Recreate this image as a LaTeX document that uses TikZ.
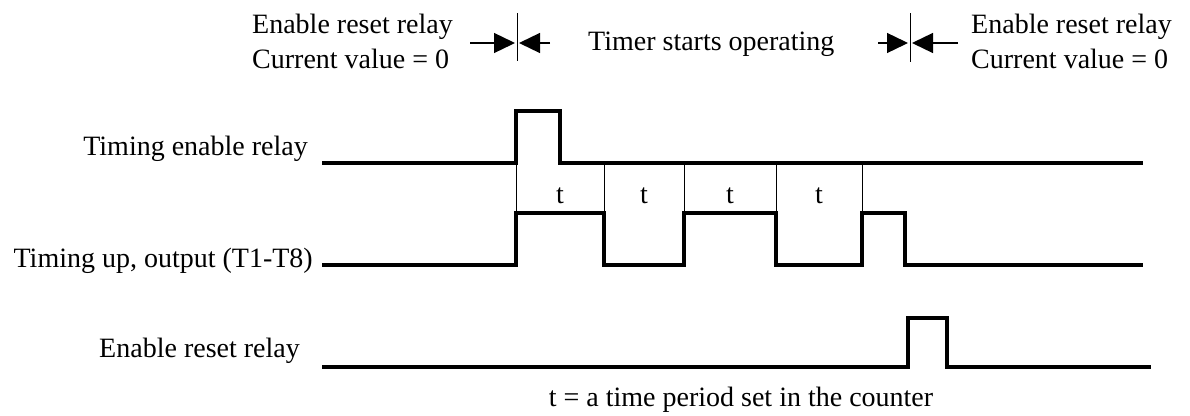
\documentclass[tikz,border=0pt]{standalone}
\usepackage{fontspec}
\setmainfont{Liberation Serif}
\usetikzlibrary{arrows.meta}
\tikzset{
  sig/.style={line width=3.2pt, line join=miter},
  gridline/.style={line width=1pt},
  stopline/.style={line width=1.3pt, -{Triangle[length=21pt,width=20pt]}},
  lbl/.style={inner sep=0pt, font=\fontsize{28}{35}\selectfont}
}
\begin{document}
\begin{tikzpicture}[x=1pt,y=-1pt]
\useasboundingbox (0,0) rectangle (1190,415);
% signal names
\node[lbl, anchor=base east] (tenlbl) at (308,155) {Timing enable relay};
\node[lbl, anchor=base east] (tuplbl) at (313,267) {Timing up, output (T1-T8)};
\node[lbl, anchor=base east] (rstlbl) at (300,357) {Enable reset relay};
% top notes
\node[lbl, anchor=west, align=left] (noteL) at (252,41.5) {Enable reset relay\\Current value = 0};
\node[lbl, anchor=base west] (noteM) at (588,50) {Timer starts operating};
\node[lbl, anchor=west, align=left] (noteR) at (971,41.5) {Enable reset relay\\Current value = 0};
% markers
\coordinate (lmA) at (470,43); \coordinate (lmB) at (550,43);
\coordinate (rmA) at (878,43); \coordinate (rmB) at (958,43);
\draw[stopline] (lmA) -- (515,43);
\draw[stopline] (lmB) -- (519,43);
\draw[gridline] (517,13) -- (517,61);
\draw[stopline] (rmA) -- (908,43);
\draw[stopline] (rmB) -- (912,43);
\draw[gridline] (910,13) -- (910,62);
% timing enable relay
\draw[sig] (322,163) -- (516,163) -- (516,111) -- (560,111) -- (560,163) -- (1143,163);
% timing up, output
\draw[sig] (322,265) -- (516,265) -- (516,213) -- (604,213) -- (604,265) -- (684,265)
  -- (684,213) -- (776,213) -- (776,265) -- (862,265) -- (862,213) -- (905,213)
  -- (905,265) -- (1143,265);
% enable reset relay
\draw[sig] (322,367) -- (908,367) -- (908,318) -- (947,318) -- (947,367) -- (1151,367);
% periods t
\foreach \xb in {516,604,684,776,862}
  \draw[gridline] (\xb,163) -- (\xb,213);
\foreach \xc in {560,644,730,819}
  \node[lbl] at (\xc,196) {t};
% note
\node[lbl, anchor=base] (capt) at (741,406) {t = a time period set in the counter};
\end{tikzpicture}
\end{document}
